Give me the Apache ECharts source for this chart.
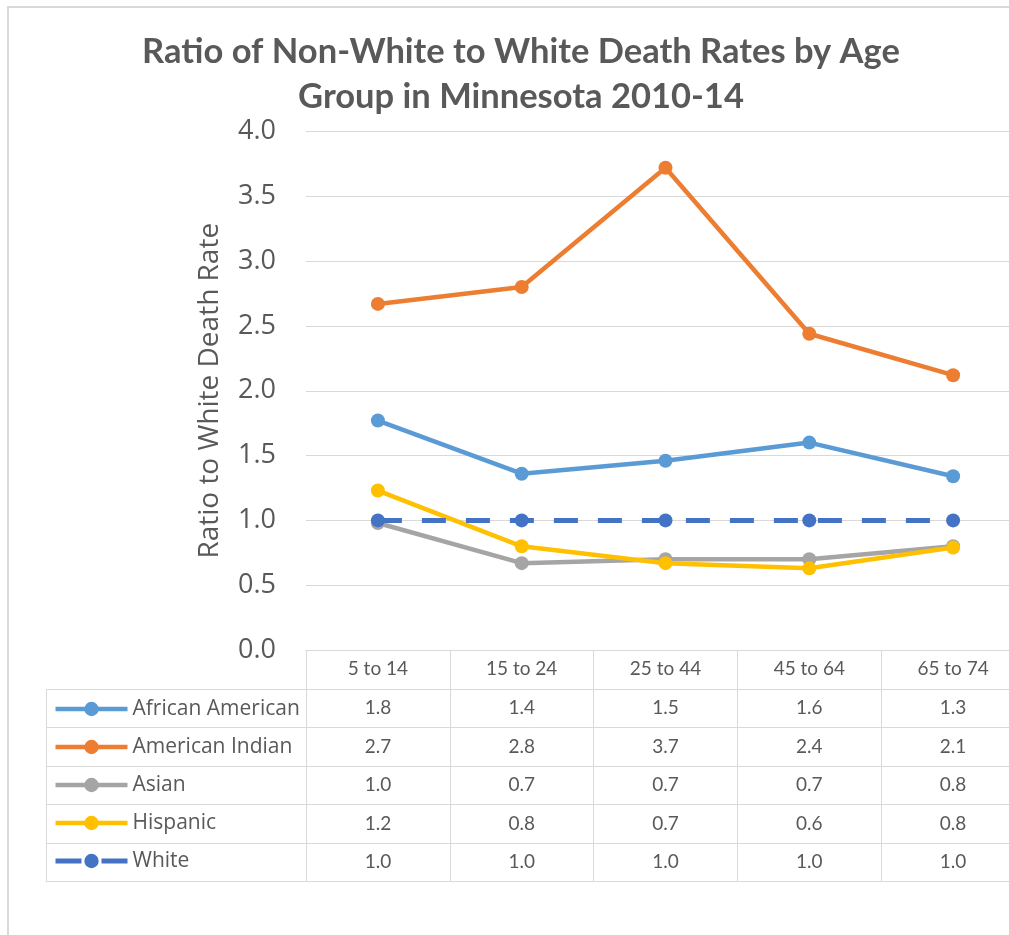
<!DOCTYPE html>
<html>
<head>
<meta charset="utf-8">
<title>Ratio of Non-White to White Death Rates by Age Group in Minnesota 2010-14</title>
<script src="https://cdn.jsdelivr.net/npm/echarts@6/dist/echarts.min.js"></script>
<style>
  html, body { margin: 0; padding: 0; background: #ffffff; overflow: hidden; }
  /* the plot's last column runs a little past the right edge of the page */
  #chart { width: 1025px; height: 935px; }
</style>
</head>
<body>
<div id="chart"></div>
<script>
// Age groups along the horizontal axis
const ageGroups = ['5 to 14', '15 to 24', '25 to 44', '45 to 64', '65 to 74'];

// Ratio of each group's death rate to the white death rate
const africanAmerican = [1.77, 1.36, 1.46, 1.60, 1.34];
const americanIndian  = [2.67, 2.80, 3.72, 2.44, 2.12];
const asian           = [0.98, 0.67, 0.70, 0.70, 0.80];
const hispanic        = [1.23, 0.80, 0.67, 0.63, 0.79];
const white           = [1.00, 1.00, 1.00, 1.00, 1.00];

const seriesNames  = ['African American', 'American Indian', 'Asian', 'Hispanic', 'White'];
const seriesValues = [africanAmerican, americanIndian, asian, hispanic, white];
const seriesColors = ['#5B9BD5', '#ED7D31', '#A5A5A5', '#FFC000', '#4472C4'];

// Value axis range and step (tick labels 0.0 ... 4.0)
const yMin = 0, yMax = 4, yStep = 0.5;

const TEXT = '#595959';
const RULE = '#D9D9D9';
const FONT = '"Open Sans", "Noto Sans", sans-serif';
const NARROW = 'Lato, "Open Sans", sans-serif';

// Layout of the plot and of the data table under it
const plotLeft = 306, plotTop = 131.5, plotBottomY = 650, plotWidth = 719;
const tableLeft = 46, tableTop = 689, rowH = 38.4;

const chart = echarts.init(document.getElementById('chart'), null, { renderer: 'canvas' });

const series = seriesNames.map((name, i) => ({
  name: name,
  type: 'line',
  data: seriesValues[i],
  symbol: 'circle',
  symbolSize: 14,
  z: name === 'White' ? 3 : 2,
  itemStyle: { color: seriesColors[i] },
  lineStyle: {
    color: seriesColors[i],
    width: name === 'White' ? 5 : 4.5,
    type: name === 'White' ? [24, 20] : 'solid',
    cap: 'butt'
  },
  emphasis: { disabled: true },
  animation: false
}));

chart.setOption({
  animation: false,
  backgroundColor: '#ffffff',
  title: {
    text: 'Ratio of Non-White to White Death Rates by Age\nGroup in Minnesota 2010-14',
    left: 516,
    top: 24,
    textAlign: 'center',
    textStyle: {
      fontFamily: NARROW,
      fontWeight: 'bold',
      fontSize: 34.5,
      lineHeight: 45,
      color: TEXT
    }
  },
  legend: {
    orient: 'vertical',
    left: 53,
    top: tableTop + 9,
    padding: 0,
    itemWidth: 72,
    itemHeight: 18,
    itemGap: 16,
    selectedMode: false,
    data: seriesNames.map((name, i) => name === 'White'
      ? { name: name, lineStyle: { type: [26, 20], width: 5 } }
      : { name: name, lineStyle: { width: 4.5 } }),
    textStyle: { fontFamily: FONT, fontSize: 21, lineHeight: 22, color: TEXT, padding: [0, 0, 0, 0] }
  },
  grid: {
    left: plotLeft,
    width: plotWidth,
    top: plotTop,
    bottom: 935 - plotBottomY,
    containLabel: false
  },
  xAxis: {
    type: 'category',
    data: ageGroups,
    boundaryGap: true,
    axisLine: { show: true, lineStyle: { color: RULE, width: 1 } },
    axisTick: { show: true, interval: 0, length: tableTop + rowH * 5 - plotBottomY, lineStyle: { color: RULE, width: 1 } },
    axisLabel: { fontFamily: NARROW, fontSize: 19, color: TEXT, margin: 9, interval: 0 },
    splitLine: { show: false }
  },
  yAxis: {
    type: 'value',
    min: yMin,
    max: yMax,
    interval: yStep,
    name: 'Ratio to White Death Rate',
    nameLocation: 'middle',
    nameRotate: 90,
    nameGap: 82,
    nameTextStyle: { fontFamily: FONT, fontSize: 28, color: TEXT },
    axisLine: { show: false },
    axisTick: { show: false },
    axisLabel: {
      fontFamily: FONT,
      fontSize: 27,
      color: TEXT,
      margin: 30,
      formatter: v => v.toFixed(1)
    },
    splitLine: { lineStyle: { color: RULE, width: 1 } }
  },
  series: series
});

// Data table: grid rules and the values of each series, one row per series
function drawTable() {
  const els = [];
  // outer chart frame
  els.push({
    type: 'rect',
    shape: { x: 8, y: 7, width: 1040, height: 960 },
    style: { fill: 'none', stroke: RULE, lineWidth: 2 },
    silent: true
  });
  const right = plotLeft + plotWidth;
  for (let k = 0; k <= seriesNames.length; k++) {
    const y = Math.round(tableTop + rowH * k) + 0.5;
    els.push({
      type: 'line',
      shape: { x1: tableLeft, y1: y, x2: right, y2: y },
      style: { stroke: RULE, lineWidth: 1 },
      silent: true
    });
  }
  els.push({
    type: 'line',
    shape: { x1: tableLeft + 0.5, y1: tableTop, x2: tableLeft + 0.5, y2: Math.round(tableTop + rowH * 5) + 0.5 },
    style: { stroke: RULE, lineWidth: 1 },
    silent: true
  });
  seriesValues.forEach((vals, r) => {
    const cy = tableTop + rowH * (r + 0.5);
    vals.forEach((v, c) => {
      const cx = chart.convertToPixel({ xAxisIndex: 0 }, c);
      els.push({
        type: 'text',
        x: cx,
        y: cy,
        style: {
          text: v.toFixed(1),
          fontFamily: NARROW,
          fontSize: 19,
          fill: TEXT,
          align: 'center',
          verticalAlign: 'middle'
        },
        silent: true
      });
    });
  });
  chart.setOption({ graphic: { elements: els } });
}
drawTable();
</script>
</body>
</html>
